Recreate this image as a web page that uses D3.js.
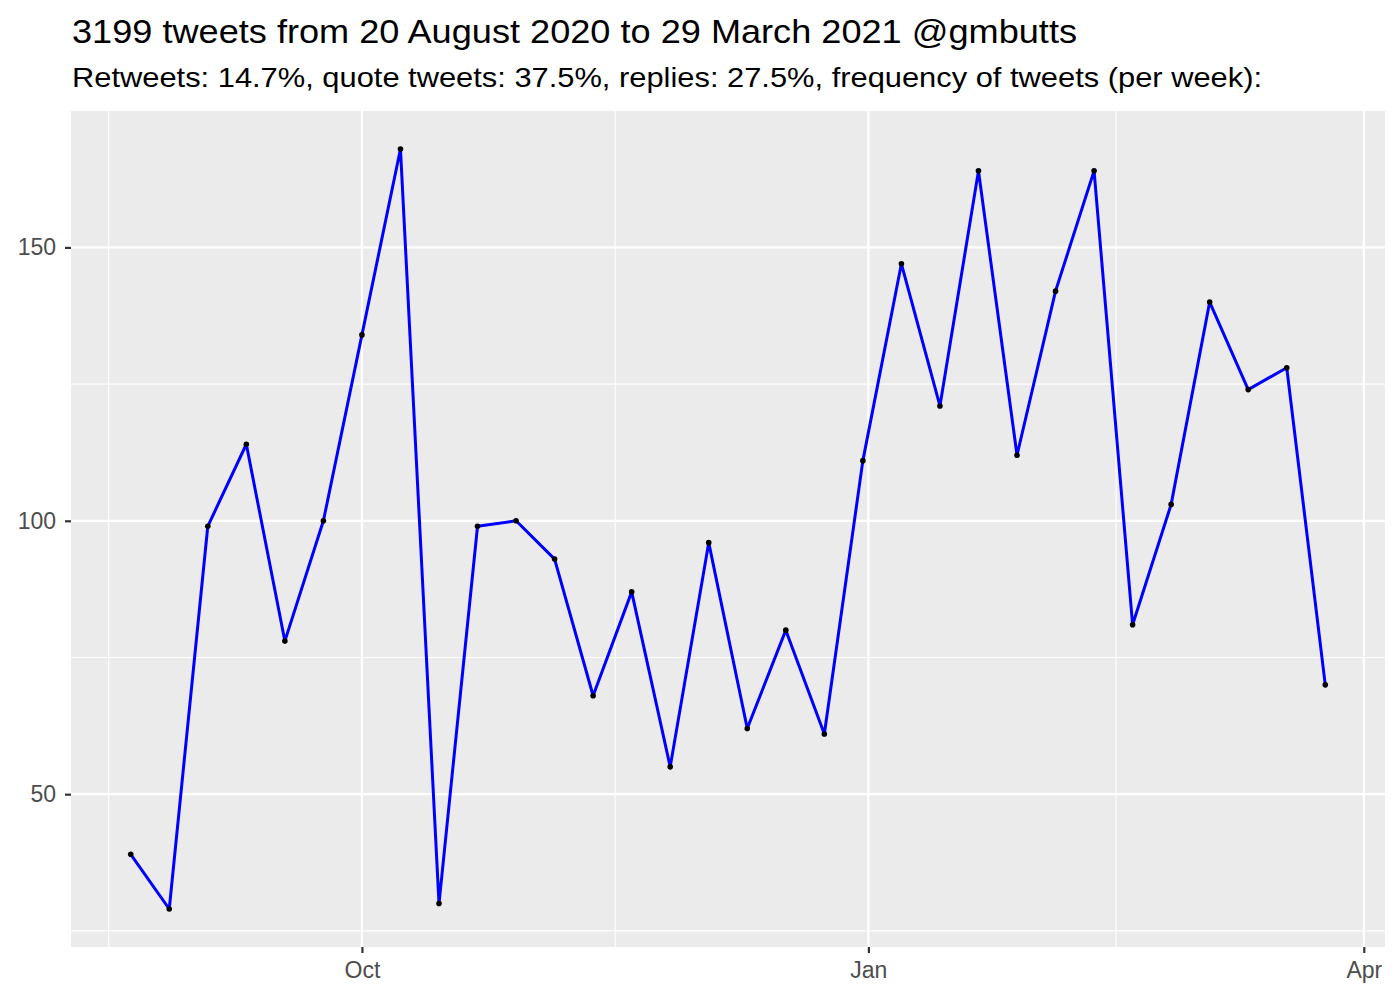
<!DOCTYPE html>
<html>
<head>
<meta charset="utf-8">
<script src="https://d3js.org/d3.v7.min.js"></script>
<style>
  body { margin: 0; background: #fff; }
  text { font-family: "Liberation Sans", Arial, sans-serif; }
</style>
</head>
<body>
<svg id="chart"></svg>
<script>
// weekly counts, starting 20 Aug 2020
const startDate = '2020-08-20'
const counts = [39, 29, 99, 114, 78, 100, 134, 168, 30, 99, 100, 93, 68, 87, 55, 96,
  62, 80, 61, 111, 147, 121, 164, 112, 142, 164, 81, 103, 140, 124, 128, 70]
const yTicks = [50, 100, 150]
const yMinor = [25, 75, 125, 175]
const xTicks = ['2020-10-01', '2021-01-01', '2021-04-01']
const xTickLabels = ['Oct', 'Jan', 'Apr']
const xMinor = ['2020-08-16', '2020-11-16', '2021-02-15']
const title = '3199 tweets from 20 August 2020 to 29 March 2021 @gmbutts'
const subtitle = 'Retweets: 14.7%, quote tweets: 37.5%, replies: 27.5%, frequency of tweets (per week):'

const width = 1400
const height = 1000
const margin = { top: 111, right: 15, bottom: 53, left: 71 }

const parse = d3.utcParse('%Y-%m-%d')
const t0 = parse(startDate)
const data = counts.map((v, i) => ({ date: d3.utcDay.offset(t0, i * 7), value: v }))

const svg = d3.select('#chart').attr('width', width).attr('height', height)

// ggplot-like 5% expansion
const xExt = d3.extent(data, d => d.date)
const xPad = (xExt[1] - xExt[0]) * 0.05
const yExt = d3.extent(data, d => d.value)
const yPad = (yExt[1] - yExt[0]) * 0.05

const x = d3.scaleUtc()
  .domain([new Date(+xExt[0] - xPad), new Date(+xExt[1] + xPad)])
  .range([margin.left, width - margin.right])
const y = d3.scaleLinear()
  .domain([yExt[0] - yPad, yExt[1] + yPad])
  .range([height - margin.bottom, margin.top])

svg.append('rect')
  .attr('x', margin.left).attr('y', margin.top)
  .attr('width', width - margin.left - margin.right)
  .attr('height', height - margin.top - margin.bottom)
  .attr('fill', '#EBEBEB')

const grid = svg.append('g')
grid.selectAll('.ymin').data(yMinor.filter(v => y(v) >= margin.top)).enter().append('line')
  .attr('x1', margin.left).attr('x2', width - margin.right)
  .attr('y1', d => y(d)).attr('y2', d => y(d))
  .attr('stroke', '#fff').attr('stroke-width', 1.1)
grid.selectAll('.xmin').data(xMinor).enter().append('line')
  .attr('x1', d => x(parse(d))).attr('x2', d => x(parse(d)))
  .attr('y1', margin.top).attr('y2', height - margin.bottom)
  .attr('stroke', '#fff').attr('stroke-width', 1.1)
grid.selectAll('.ymaj').data(yTicks).enter().append('line')
  .attr('x1', margin.left).attr('x2', width - margin.right)
  .attr('y1', d => y(d)).attr('y2', d => y(d))
  .attr('stroke', '#fff').attr('stroke-width', 2.2)
grid.selectAll('.xmaj').data(xTicks).enter().append('line')
  .attr('x1', d => x(parse(d))).attr('x2', d => x(parse(d)))
  .attr('y1', margin.top).attr('y2', height - margin.bottom)
  .attr('stroke', '#fff').attr('stroke-width', 2.2)

// axes
const xAxis = d3.axisBottom(x)
  .tickValues(xTicks.map(parse))
  .tickFormat((d, i) => xTickLabels[i])
  .tickSize(6).tickPadding(9)
const gx = svg.append('g')
  .attr('transform', `translate(0,${height - margin.bottom})`)
  .call(xAxis)
gx.select('.domain').remove()
gx.selectAll('line').attr('stroke', '#333').attr('stroke-width', 2.2)
gx.selectAll('text').attr('fill', '#4D4D4D').style('font-size', '23px')

const yAxis = d3.axisLeft(y).tickValues(yTicks).tickSize(6).tickPadding(9)
const gy = svg.append('g')
  .attr('transform', `translate(${margin.left},0)`)
  .call(yAxis)
gy.select('.domain').remove()
gy.selectAll('line').attr('stroke', '#333').attr('stroke-width', 2.2)
gy.selectAll('text').attr('fill', '#4D4D4D').style('font-size', '23px')

// line + points
const line = d3.line().x(d => x(d.date)).y(d => y(d.value))
svg.append('path').datum(data)
  .attr('d', line)
  .attr('fill', 'none')
  .attr('stroke', '#0000FF')
  .attr('stroke-width', 3)
  .attr('stroke-linejoin', 'round')
svg.append('g').selectAll('circle').data(data).enter().append('circle')
  .attr('cx', d => x(d.date)).attr('cy', d => y(d.value))
  .attr('r', 2.8).attr('fill', '#000')

// titles
svg.append('text').attr('x', 72).attr('y', 43)
  .style('font-size', '34px').attr('fill', '#000')
  .attr('textLength', 1005).attr('lengthAdjust', 'spacingAndGlyphs')
  .text(title)
svg.append('text').attr('x', 72).attr('y', 87)
  .style('font-size', '28px').attr('fill', '#000')
  .attr('textLength', 1190).attr('lengthAdjust', 'spacingAndGlyphs')
  .text(subtitle)
</script>
</body>
</html>
